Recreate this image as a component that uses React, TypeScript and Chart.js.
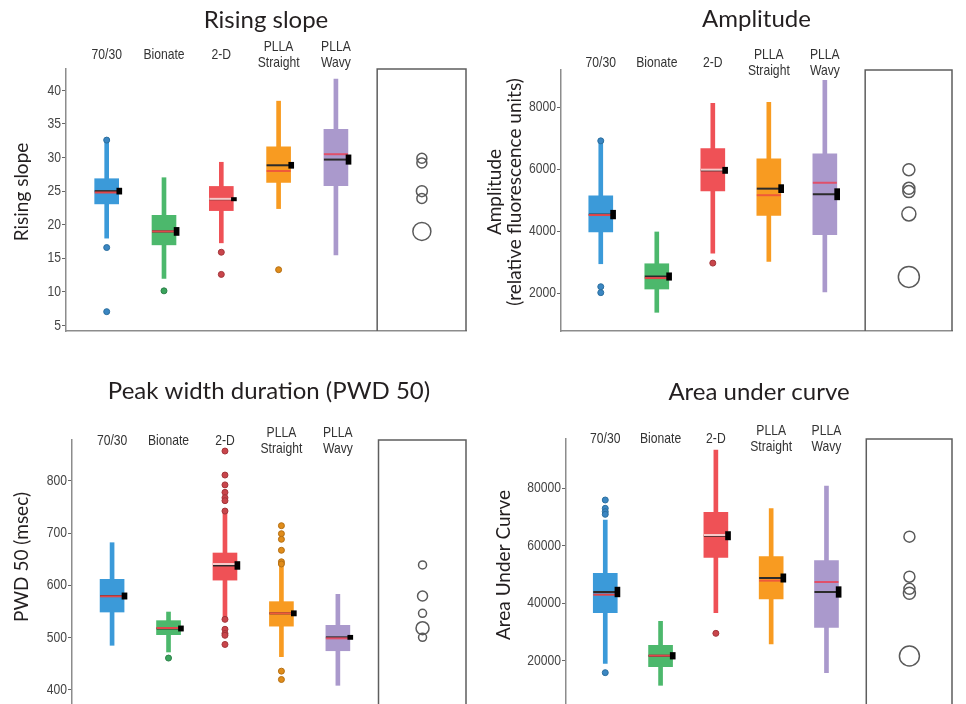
import React, { useEffect, useRef } from 'react';
import { Chart, registerables } from 'chart.js';

Chart.register(...registerables);

// ---------- shared categories & styling ----------
const categories: (string | string[])[] = ['70/30', 'Bionate', '2-D', ['PLLA', 'Straight'], ['PLLA', 'Wavy']];
const catX = [1, 2, 3, 4, 5];
const circleX = 6.5;
const frameFrom = 5.72;
const xMin = 0.29;
const xMax = 7.27;

const boxColors = ['#3b9ad9', '#4cb86c', '#ef5156', '#f89b21', '#aa99cc'];
const outlierFill = ['#3a86c2', '#3aa45c', '#c9454b', '#e08c1a', '#9a88bb'];
const outlierEdge = ['#2a6e9e', '#2b8048', '#a3353a', '#b46e12', '#7d6ca0'];
const medianColors = ['#e0464b', '#e0464b', '#f8c9c9', '#ef5a3a', '#e0506a'];
const meanLineColor = '#2b2b2b';

// ---------- Rising slope ----------
const rsTicks = [5, 10, 15, 20, 25, 30, 35, 40];
const rsQ1 = [23.1, 17.0, 22.1, 26.3, 25.8];
const rsQ3 = [26.85, 21.4, 25.7, 31.6, 34.2];
const rsWLo = [18.0, 12.0, 17.3, 22.4, 15.5];
const rsWHi = [32.5, 27.0, 29.3, 38.4, 41.7];
const rsMedian = [24.8, 19.0, 23.85, 28.0, 30.5];
const rsMean = [25.0, 19.0, 23.8, 28.85, 29.7];
const rsSem = [0.45, 0.6, 0.25, 0.45, 0.7];
const rsOutliers = [[32.6, 16.6, 7.05], [10.15], [15.9, 12.6], [13.3], []];
const rsCircles = [25.0, 19.0, 23.9, 29.2, 29.9];
const rsCircleR = [5.5, 9, 5, 5, 5];

// ---------- Amplitude ----------
const ampTicks = [2000, 4000, 6000, 8000];
const ampQ1 = [3975, 2137, 5296, 4504, 3891];
const ampQ3 = [5137, 2951, 6659, 6331, 6490];
const ampWLo = [2951, 1387, 3289, 3025, 2042];
const ampWHi = [6900, 3975, 8116, 8148, 8856];
const ampMedian = [4520, 2490, 5982, 5159, 5560];
const ampMean = [4535, 2540, 5960, 5370, 5190];
const ampSem = [140, 120, 100, 130, 180];
const ampOutliers = [[6910, 2211, 2021], [], [2972], [], []];
const ampCircles = [4556, 2528, 5982, 5380, 5275];
const ampCircleR = [7, 10.5, 6, 6, 6];

// ---------- PWD 50 ----------
const pwdTicks = [400, 500, 600, 700, 800];
const pwdQ1 = [549, 505.7, 610, 522, 475];
const pwdQ3 = [611.5, 532.5, 661.8, 568.8, 523.6];
const pwdWLo = [485.4, 472.6, 540, 463.7, 408.9];
const pwdWHi = [681.5, 549, 738, 635.7, 582.8];
const pwdMedian = [579, 518.5, 640.8, 546.5, 498.7];
const pwdMean = [579.6, 517.5, 638, 546.5, 500.6];
const pwdSem = [6, 5, 7.5, 5, 4];
const pwdOutliers = [
  [],
  [461],
  [856.7, 810.8, 792, 777.7, 767.5, 761.8, 742, 535, 516, 508, 504.5, 487],
  [714, 698.7, 688, 667, 645, 640.8, 436, 420],
  [],
];
const pwdCircles = [579.6, 518, 639, 546.5, 500.6];
const pwdCircleR = [5, 6.5, 4, 4, 4];

// ---------- Area under curve ----------
const aucTicks = [20000, 40000, 60000, 80000];
const aucQ1 = [36713, 17913, 55977, 41471, 31607];
const aucQ3 = [50407, 25340, 71644, 56210, 54817];
const aucWLo = [19073, 11416, 36713, 25805, 15824];
const aucWHi = [68975, 33696, 93346, 72921, 80812];
const aucMedian = [42980, 21743, 63753, 47855, 47390];
const aucMean = [43908, 21700, 63500, 48783, 43908];
const aucSem = [1700, 1150, 1450, 1450, 1850];
const aucOutliers = [[75938, 73037, 71876, 70948, 15824], [], [29518], [], []];
const aucCircles = [45000, 21620, 63160, 49230, 43450];
const aucCircleR = [5.5, 10, 5.5, 5.5, 6];

type Spec = {
  title: string;
  yTitle: string[];
  yTitleX: number[];
  yTitleCY: number;
  left: number;
  top: number;
  width: number;
  height: number;
  area: { l: number; t: number; r: number; b: number };
  titleY: number;
  labelOffset: number;
  yMin: number;
  yMax: number;
  yTicks: number[];
  q1: number[];
  q3: number[];
  wLo: number[];
  wHi: number[];
  median: number[];
  mean: number[];
  sem: number[];
  outliers: number[][];
  circles: number[];
  circleR: number[];
};

const panels: Spec[] = [
  {
    title: 'Rising slope', yTitle: ['Rising slope'], yTitleX: [22], yTitleCY: 192,
    left: 0, top: 0, width: 480, height: 345,
    area: { l: 66, t: 69, r: 468, b: 334 }, titleY: 20, labelOffset: -6.5,
    yMin: 4.17, yMax: 43.19, yTicks: rsTicks,
    q1: rsQ1, q3: rsQ3, wLo: rsWLo, wHi: rsWHi, median: rsMedian, mean: rsMean, sem: rsSem,
    outliers: rsOutliers, circles: rsCircles, circleR: rsCircleR,
  },
  {
    title: 'Amplitude', yTitle: ['Amplitude', '(relative fluorescence units)'], yTitleX: [15, 35], yTitleCY: 192,
    left: 480, top: 0, width: 486, height: 345,
    area: { l: 81, t: 70, r: 481, b: 335 }, titleY: 19.5, labelOffset: 0.5,
    yMin: 785, yMax: 9192, yTicks: ampTicks,
    q1: ampQ1, q3: ampQ3, wLo: ampWLo, wHi: ampWHi, median: ampMedian, mean: ampMean, sem: ampSem,
    outliers: ampOutliers, circles: ampCircles, circleR: ampCircleR,
  },
  {
    title: 'Peak width duration (PWD 50)', yTitle: ['PWD 50 (msec)'], yTitleX: [22], yTitleCY: 212,
    left: 0, top: 345, width: 480, height: 400,
    area: { l: 72, t: 95, r: 468, b: 385 }, titleY: 46.7, labelOffset: 8.5,
    yMin: 323.5, yMax: 877.8, yTicks: pwdTicks,
    q1: pwdQ1, q3: pwdQ3, wLo: pwdWLo, wHi: pwdWHi, median: pwdMedian, mean: pwdMean, sem: pwdSem,
    outliers: pwdOutliers, circles: pwdCircles, circleR: pwdCircleR,
  },
  {
    title: 'Area under curve', yTitle: ['Area Under Curve'], yTitleX: [24], yTitleCY: 220,
    left: 480, top: 345, width: 486, height: 400,
    area: { l: 86, t: 94, r: 481, b: 385 }, titleY: 47.7, labelOffset: 8,
    yMin: -4140, yMax: 97177, yTicks: aucTicks,
    q1: aucQ1, q3: aucQ3, wLo: aucWLo, wHi: aucWHi, median: aucMedian, mean: aucMean, sem: aucSem,
    outliers: aucOutliers, circles: aucCircles, circleR: aucCircleR,
  },
];

const TITLE_FONT = 'Lato, "Open Sans", sans-serif';
const TICK_FONT = '"Liberation Sans", Arial, sans-serif';
const AXIS_COLOR = '#8c8c8c';

const framePlugin = {
  id: 'rightFrame',
  afterDatasetsDraw(chart: any, _args: any, opts: any) {
    const { ctx, chartArea, scales } = chart;
    const x0 = scales.x.getPixelForValue(opts.from);
    ctx.save();
    ctx.strokeStyle = opts.color;
    ctx.lineWidth = opts.width;
    ctx.beginPath();
    ctx.moveTo(x0, chartArea.bottom);
    ctx.lineTo(x0, chartArea.top);
    ctx.lineTo(chartArea.right, chartArea.top);
    ctx.lineTo(chartArea.right, chartArea.bottom);
    ctx.stroke();
    ctx.restore();
  },
};

// condensed text labels: category names above the boxes and y tick labels
const labelsPlugin = {
  id: 'narrowLabels',
  afterDraw(chart: any, _args: any, opts: any) {
    const { ctx, chartArea, scales } = chart;
    ctx.save();
    ctx.font = opts.font;
    ctx.textBaseline = 'middle';
    ctx.fillStyle = opts.catColor;
    ctx.textAlign = 'center';
    const lh = opts.lineHeight;
    (opts.categories as (string | string[])[]).forEach((lab, i) => {
      const lines = Array.isArray(lab) ? lab : [lab];
      const n = lines.length;
      const x = scales.x.getPixelForValue(opts.catX[i]);
      lines.forEach((line, j) => {
        const y = chartArea.top + opts.offset - (n - 1 - j) * lh - ((2 - n) * lh) / 2;
        ctx.save();
        ctx.translate(x, y);
        ctx.scale(opts.squeeze, 1);
        ctx.fillText(line, 0, 0);
        ctx.restore();
      });
    });
    ctx.fillStyle = opts.tickColor;
    ctx.textAlign = 'right';
    scales.y.ticks.forEach((t: any) => {
      const y = scales.y.getPixelForValue(t.value);
      ctx.save();
      ctx.translate(chartArea.left - 5, y);
      ctx.scale(opts.squeeze, 1);
      ctx.fillText(String(t.value), 0, 0);
      ctx.restore();
    });
    ctx.restore();
  },
};

const yTitlePlugin = {
  id: 'yTitle',
  afterDraw(chart: any, _args: any, opts: any) {
    const { ctx } = chart;
    ctx.save();
    ctx.font = opts.font;
    ctx.fillStyle = opts.color;
    ctx.textAlign = 'center';
    ctx.textBaseline = 'middle';
    (opts.lines as string[]).forEach((line, i) => {
      ctx.save();
      ctx.translate(opts.xs[i], opts.cy);
      ctx.rotate(-Math.PI / 2);
      ctx.fillText(line, 0, 0);
      ctx.restore();
    });
    ctx.restore();
  },
};

function buildConfig(s: Spec): any {
  const titleSize = 24;
  const titlePadTop = s.titleY - titleSize * 0.6;
  const titlePadBottom = s.area.t - (titlePadTop + titleSize * 1.2);

  const outlierPts: any[] = [];
  const outlierBg: string[] = [];
  const outlierBd: string[] = [];
  s.outliers.forEach((arr, i) =>
    arr.forEach((v) => {
      outlierPts.push({ x: catX[i], y: v });
      outlierBg.push(outlierFill[i]);
      outlierBd.push(outlierEdge[i]);
    })
  );

  const datasets: any[] = [
    {
      type: 'bar', label: 'whiskers', order: 7, grouped: false, barThickness: 4,
      data: catX.map((x, i) => ({ x, y: [s.wLo[i], s.wHi[i]] })),
      backgroundColor: boxColors, borderWidth: 0,
    },
    {
      type: 'bar', label: 'boxes', order: 6, grouped: false, barThickness: 24,
      data: catX.map((x, i) => ({ x, y: [s.q1[i], s.q3[i]] })),
      backgroundColor: boxColors, borderWidth: 0,
    },
    {
      type: 'scatter', label: 'mean', order: 5,
      data: catX.map((x, i) => ({ x, y: s.mean[i] })),
      pointStyle: 'line', pointRadius: 12, pointBorderWidth: 2,
      pointBorderColor: meanLineColor, borderColor: meanLineColor,
    },
    {
      type: 'scatter', label: 'median', order: 4,
      data: catX.map((x, i) => ({ x, y: s.median[i] })),
      pointStyle: 'line', pointRadius: 12, pointBorderWidth: 2,
      pointBorderColor: medianColors, borderColor: medianColors,
    },
    {
      type: 'bar', label: 'mean ± sem', order: 3, grouped: false, barThickness: 5,
      data: catX.map((x, i) => ({ x: x + 0.22, y: [s.mean[i] - s.sem[i], s.mean[i] + s.sem[i]] })),
      backgroundColor: '#000', borderWidth: 0,
    },
    {
      type: 'scatter', label: 'outliers', order: 2,
      data: outlierPts, pointRadius: 3, pointBorderWidth: 1,
      pointBackgroundColor: outlierBg, pointBorderColor: outlierBd,
    },
    {
      type: 'scatter', label: 'group means', order: 1,
      data: catX.map((_, i) => ({ x: circleX, y: s.circles[i] })),
      pointRadius: s.circleR, pointBorderWidth: 1.5,
      pointBackgroundColor: 'rgba(0,0,0,0)', pointBorderColor: '#5a5a5a',
    },
  ];
  datasets.forEach((d) => { d.xAxisID = 'x'; d.yAxisID = 'y'; });

  return {
    type: 'bar',
    data: { datasets },
    plugins: [framePlugin, labelsPlugin, yTitlePlugin],
    options: {
      responsive: false,
      devicePixelRatio: 1,
      animation: false,
      events: [],
      layout: { padding: { left: 0, top: 0, right: s.width - s.area.r, bottom: s.height - s.area.b } },
      plugins: {
        legend: { display: false },
        tooltip: { enabled: false },
        title: {
          display: true, text: s.title, fullSize: false, color: '#231f20',
          font: { family: TITLE_FONT, size: titleSize, weight: 'normal', lineHeight: 1.2 },
          padding: { top: titlePadTop, bottom: titlePadBottom },
        },
        rightFrame: { from: frameFrom, color: '#5e5e5e', width: 1.5 },
        narrowLabels: {
          categories, catX, offset: s.labelOffset, lineHeight: 16,
          font: `15px ${TICK_FONT}`, squeeze: 0.81, catColor: '#333333', tickColor: '#444444',
        },
        yTitle: {
          lines: s.yTitle, xs: s.yTitleX, cy: s.yTitleCY,
          font: `19px ${TITLE_FONT}`, color: '#231f20',
        },
      },
      scales: {
        x: {
          type: 'linear', position: 'bottom', min: xMin, max: xMax, offset: false,
          grid: { display: false, drawTicks: false },
          ticks: { display: false },
          border: { display: true, color: AXIS_COLOR, width: 1.5 },
          afterFit: (sc: any) => { sc.height = 0; },
        },
        y: {
          type: 'linear', position: 'left', min: s.yMin, max: s.yMax,
          afterBuildTicks: (sc: any) => { sc.ticks = s.yTicks.map((v) => ({ value: v })); },
          afterFit: (sc: any) => { sc.width = s.area.l; },
          grid: { display: true, drawOnChartArea: false, drawTicks: true, tickLength: 4, color: '#666', lineWidth: 1 },
          border: { display: true, color: AXIS_COLOR, width: 1.5 },
          ticks: { display: false },
        },
      },
    },
  };
}

function Panel({ spec }: { spec: Spec }) {
  const ref = useRef<HTMLCanvasElement | null>(null);
  useEffect(() => {
    if (!ref.current) return;
    const chart = new Chart(ref.current, buildConfig(spec));
    return () => chart.destroy();
  }, [spec]);
  return (
    <canvas
      ref={ref}
      width={spec.width}
      height={spec.height}
      style={{ position: 'absolute', left: spec.left, top: spec.top, width: spec.width, height: spec.height }}
    />
  );
}

export default function App() {
  return (
    <div
      style={{
        position: 'fixed', left: 0, top: 0, width: 966, height: 704,
        overflow: 'hidden', background: '#ffffff',
      }}
    >
      {panels.map((p) => (
        <Panel key={p.title} spec={p} />
      ))}
    </div>
  );
}
